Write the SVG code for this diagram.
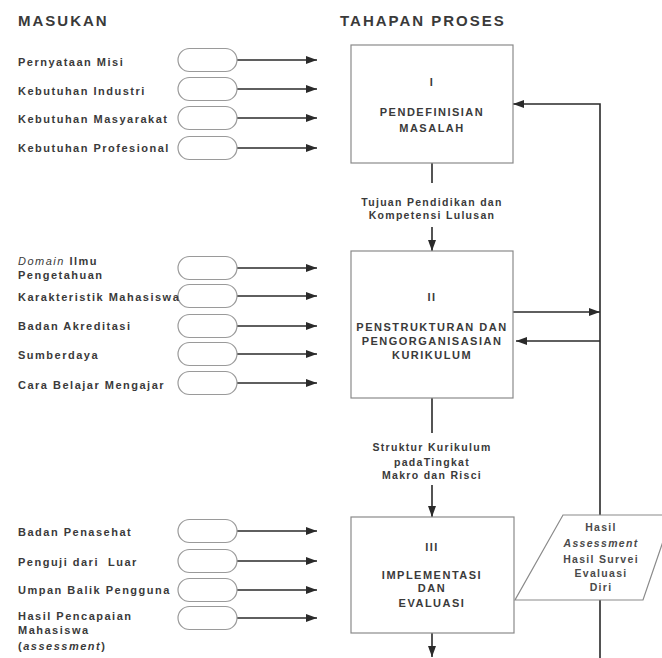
<svg xmlns="http://www.w3.org/2000/svg" width="662" height="658" viewBox="0 0 662 658">
  <style>
    text { font-family: "Liberation Sans", Arial, sans-serif; fill: #3a3a3a; }
    .head { font-size: 15px; font-weight: bold; letter-spacing: 2px; }
    .lbl { font-size: 11px; font-weight: bold; letter-spacing: 1.5px; }
    .box { fill: #ffffff; stroke: #8a8a8a; stroke-width: 1.2; }
    .btxt { font-size: 11px; font-weight: bold; letter-spacing: 1.5px; text-anchor: middle; }
    .ctxt { font-size: 10.5px; font-weight: bold; letter-spacing: 1.3px; text-anchor: middle; }
    .ptxt { font-size: 10.5px; font-weight: bold; letter-spacing: 1.3px; text-anchor: middle; fill: #4a4a4a; }
    .pill { fill: #ffffff; stroke: #9a9a9a; stroke-width: 1.2; }
    .wire { fill: none; stroke: #2a2a2a; stroke-width: 1.6; }
    .it { font-style: italic; }
  </style>
  <defs>
    <marker id="arrow" markerUnits="userSpaceOnUse" markerWidth="12" markerHeight="8" refX="11" refY="4" orient="auto">
      <path d="M0,0 L11,4 L0,8 Z" fill="#2a2a2a"/>
    </marker>
  </defs>

  <rect width="662" height="658" fill="#ffffff"/>

  <!-- column headings -->
  <text class="head" x="18" y="26">MASUKAN</text>
  <text class="head" x="340" y="26">TAHAPAN PROSES</text>

  <!-- connectors -->
  <g id="connectors">
    <!-- inputs to stage I -->
    <path class="wire" d="M237,60 H317" marker-end="url(#arrow)"/>
    <path class="wire" d="M237,89 H317" marker-end="url(#arrow)"/>
    <path class="wire" d="M237,118 H317" marker-end="url(#arrow)"/>
    <path class="wire" d="M237,148 H317" marker-end="url(#arrow)"/>
    <!-- inputs to stage II -->
    <path class="wire" d="M237,268 H317" marker-end="url(#arrow)"/>
    <path class="wire" d="M237,296 H317" marker-end="url(#arrow)"/>
    <path class="wire" d="M237,326 H317" marker-end="url(#arrow)"/>
    <path class="wire" d="M237,354 H317" marker-end="url(#arrow)"/>
    <path class="wire" d="M237,383 H317" marker-end="url(#arrow)"/>
    <!-- inputs to stage III -->
    <path class="wire" d="M237,531 H317" marker-end="url(#arrow)"/>
    <path class="wire" d="M237,561 H317" marker-end="url(#arrow)"/>
    <path class="wire" d="M237,590 H317" marker-end="url(#arrow)"/>
    <path class="wire" d="M237,618 H317" marker-end="url(#arrow)"/>
    <!-- stage flow -->
    <path class="wire" d="M432,163 V183"/>
    <path class="wire" d="M432,227 V251" marker-end="url(#arrow)"/>
    <path class="wire" d="M432,398 V433"/>
    <path class="wire" d="M432,485 V517" marker-end="url(#arrow)"/>
    <path class="wire" d="M432,633 V657" marker-end="url(#arrow)"/>
    <!-- feedback loop -->
    <path class="wire" d="M600,658 V104 H513" marker-end="url(#arrow)"/>
    <path class="wire" d="M513,312 H600" marker-end="url(#arrow)"/>
    <path class="wire" d="M600,341 H516" marker-end="url(#arrow)"/>
  </g>

  <!-- input group: stage I -->
  <g id="in-misi">
    <rect class="pill" x="178" y="48.5" width="59" height="23" rx="11.5"/>
    <text class="lbl" x="18" y="66">Pernyataan Misi</text>
  </g>
  <g id="in-industri">
    <rect class="pill" x="178" y="77.5" width="59" height="23" rx="11.5"/>
    <text class="lbl" x="18" y="95">Kebutuhan Industri</text>
  </g>
  <g id="in-masyarakat">
    <rect class="pill" x="178" y="106.5" width="59" height="23" rx="11.5"/>
    <text class="lbl" x="18" y="123">Kebutuhan Masyarakat</text>
  </g>
  <g id="in-profesional">
    <rect class="pill" x="178" y="136.5" width="59" height="23" rx="11.5"/>
    <text class="lbl" x="18" y="152">Kebutuhan Profesional</text>
  </g>

  <!-- input group: stage II -->
  <g id="in-domain">
    <rect class="pill" x="178" y="256.5" width="59" height="23" rx="11.5"/>
    <text class="lbl" x="18" y="265"><tspan class="it" font-weight="normal">Domain</tspan> Ilmu</text>
    <text class="lbl" x="18" y="279">Pengetahuan</text>
  </g>
  <g id="in-karakteristik">
    <rect class="pill" x="178" y="284.5" width="59" height="23" rx="11.5"/>
    <text class="lbl" x="18" y="301">Karakteristik Mahasiswa</text>
  </g>
  <g id="in-akreditasi">
    <rect class="pill" x="178" y="314.5" width="59" height="23" rx="11.5"/>
    <text class="lbl" x="18" y="330">Badan Akreditasi</text>
  </g>
  <g id="in-sumberdaya">
    <rect class="pill" x="178" y="342.5" width="59" height="23" rx="11.5"/>
    <text class="lbl" x="18" y="359">Sumberdaya</text>
  </g>
  <g id="in-belajar">
    <rect class="pill" x="178" y="371.5" width="59" height="23" rx="11.5"/>
    <text class="lbl" x="18" y="389">Cara Belajar Mengajar</text>
  </g>

  <!-- input group: stage III -->
  <g id="in-penasehat">
    <rect class="pill" x="178" y="519.5" width="59" height="23" rx="11.5"/>
    <text class="lbl" x="18" y="536">Badan Penasehat</text>
  </g>
  <g id="in-penguji">
    <rect class="pill" x="178" y="549.5" width="59" height="23" rx="11.5"/>
    <text class="lbl" x="18" y="566" xml:space="preserve">Penguji dari  Luar</text>
  </g>
  <g id="in-umpan">
    <rect class="pill" x="178" y="578.5" width="59" height="23" rx="11.5"/>
    <text class="lbl" x="18" y="594">Umpan Balik Pengguna</text>
  </g>
  <g id="in-pencapaian">
    <rect class="pill" x="178" y="606.5" width="59" height="23" rx="11.5"/>
    <text class="lbl" x="18" y="620">Hasil Pencapaian</text>
    <text class="lbl" x="18" y="634">Mahasiswa</text>
    <text class="lbl" x="18" y="650">(<tspan class="it">assessment</tspan>)</text>
  </g>

  <!-- stage I -->
  <g id="stage-1">
    <rect class="box" x="351" y="45" width="162" height="118"/>
    <text class="btxt" x="432" y="86">I</text>
    <text class="btxt" x="432" y="116">PENDEFINISIAN</text>
    <text class="btxt" x="432" y="132">MASALAH</text>
  </g>
  <g id="label-tujuan">
    <text class="ctxt" x="432" y="206">Tujuan Pendidikan dan</text>
    <text class="ctxt" x="432" y="219">Kompetensi Lulusan</text>
  </g>

  <!-- stage II -->
  <g id="stage-2">
    <rect class="box" x="351" y="251" width="162" height="147"/>
    <text class="btxt" x="432" y="301">II</text>
    <text class="btxt" x="432" y="331">PENSTRUKTURAN DAN</text>
    <text class="btxt" x="432" y="345">PENGORGANISASIAN</text>
    <text class="btxt" x="432" y="359">KURIKULUM</text>
  </g>
  <g id="label-struktur">
    <text class="ctxt" x="432" y="451">Struktur Kurikulum</text>
    <text class="ctxt" x="432" y="466">padaTingkat</text>
    <text class="ctxt" x="432" y="479">Makro dan Risci</text>
  </g>

  <!-- stage III -->
  <g id="stage-3">
    <rect class="box" x="351" y="517" width="163" height="116"/>
    <text class="btxt" x="432" y="551">III</text>
    <text class="btxt" x="432" y="579">IMPLEMENTASI</text>
    <text class="btxt" x="432" y="592">DAN</text>
    <text class="btxt" x="432" y="607">EVALUASI</text>
  </g>

  <!-- assessment results (data) -->
  <g id="hasil-assessment">
    <polygon class="box" points="563,515 672,515 643,600 515,600"/>
    <text class="ptxt" x="601" y="531">Hasil</text>
    <text class="ptxt it" x="601" y="547">Assessment</text>
    <text class="ptxt" x="601" y="563">Hasil Survei</text>
    <text class="ptxt" x="601" y="577">Evaluasi</text>
    <text class="ptxt" x="601" y="591">Diri</text>
  </g>
</svg>
